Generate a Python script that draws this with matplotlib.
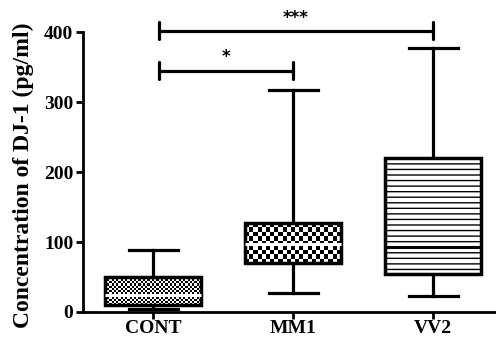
import numpy as np
import matplotlib
matplotlib.use("Agg")
import matplotlib.pyplot as plt

# Box-plot summary values (pg/ml)
groups = ["CONT", "MM1", "VV2"]
whislo = [4, 27, 23]
q1 = [10, 70, 54]
med = [24, 97, 93]
q3 = [50, 127, 220]
whishi = [88, 317, 378]

# Significance brackets: (left group, right group, label, height)
comparisons = [(0, 1, "*", 345), (0, 2, "***", 402)]

plt.rcParams["font.family"] = ["Liberation Serif", "DejaVu Serif"]
plt.rcParams["font.weight"] = "bold"
plt.rcParams["hatch.linewidth"] = 1.0

W, H = 496, 345
fig = plt.figure(figsize=(W / 100, H / 100), dpi=100)
ax = fig.add_axes([83 / W, 33 / H, 1 - 83 / W, 312 / H])
ax.set_xlim(-0.5, 2.45)
ax.set_ylim(0, 446)

stats = [dict(label=g, whislo=a, q1=b, med=c, q3=d, whishi=e)
         for g, a, b, c, d, e in zip(groups, whislo, q1, med, q3, whishi)]
pos = np.arange(len(groups))
lw = 2.3
bp = ax.bxp(stats, positions=pos, widths=0.68, capwidths=0.35,
            showfliers=False, patch_artist=True,
            boxprops=dict(linewidth=lw + 0.2, edgecolor="black", facecolor="none"),
            whiskerprops=dict(linewidth=lw, color="black"),
            capprops=dict(linewidth=lw, color="black"),
            medianprops=dict(linewidth=2.2, color="white"))

for b in bp["boxes"]:
    b.set_zorder(4)
    b.set_joinstyle("miter")


def checker_fill(box, x0, x1, y0, y1, cell_px):
    """Fill a box region with a black/white checkerboard clipped to the box."""
    p0 = ax.transData.transform((x0, y0))
    p1 = ax.transData.transform((x1, y1))
    wpx, hpx = abs(p1[0] - p0[0]), abs(p1[1] - p0[1])
    nc = max(int(round(wpx / cell_px)), 1)
    nr = max(int(round(hpx / cell_px)), 1)
    yy, xx = np.indices((nr, nc))
    tex = ((yy + xx) % 2).astype(float)
    im = ax.imshow(tex, extent=(x0, x1, y0, y1), cmap="gray",
                   interpolation="nearest", aspect="auto", zorder=3, vmin=0, vmax=1)
    im.set_clip_path(box)


half = 0.34
# CONT: fine checker, MM1: coarse checker
checker_fill(bp["boxes"][0], pos[0] - half, pos[0] + half, q1[0], q3[0], 2.2)
checker_fill(bp["boxes"][1], pos[1] - half, pos[1] + half, q1[1], q3[1], 4.2)

# VV2: horizontal line hatching with a black median
bp["boxes"][2].set_facecolor("white")
bp["boxes"][2].set_hatch("---")
bp["boxes"][2].set_zorder(3)
bp["medians"][2].set_color("black")
for m in bp["medians"]:
    m.set_zorder(5)

ax.set_ylim(0, 446)
ax.set_xlim(-0.5, 2.45)

# significance brackets
for left, right, label, h in comparisons:
    xl, xr = pos[left] + 0.04, pos[right]
    ax.plot([xl, xr], [h, h], color="black", lw=2.3, solid_capstyle="butt", zorder=5)
    for xe in (xl, xr):
        ax.plot([xe, xe], [h - 12, h + 12], color="black", lw=2.3,
                solid_capstyle="round", zorder=5)
    ax.text((xl + xr) / 2, h + 6, label, ha="center", va="bottom",
            fontsize=12, fontweight="bold", family="DejaVu Sans")

for s in ("top", "right"):
    ax.spines[s].set_visible(False)
ax.spines["left"].set_linewidth(2.0)
ax.spines["bottom"].set_linewidth(2.0)
ax.spines["left"].set_bounds(0, 400)
ax.set_yticks([0, 100, 200, 300, 400])
ax.set_xticks(pos)
ax.set_xticklabels(groups)
ax.tick_params(axis="y", length=5, width=2.0, labelsize=14, pad=2)
ax.tick_params(axis="x", length=5, width=2.0, labelsize=14, pad=1)
for t in ax.get_xticklabels() + ax.get_yticklabels():
    t.set_fontweight("bold")

fig.text(23 / W, 1 - 175.5 / H, "Concentration of DJ-1 (pg/ml)", rotation=90,
         ha="center", va="center", fontsize=17, fontweight="bold")

fig.savefig("out.png", dpi=100, facecolor="white")
